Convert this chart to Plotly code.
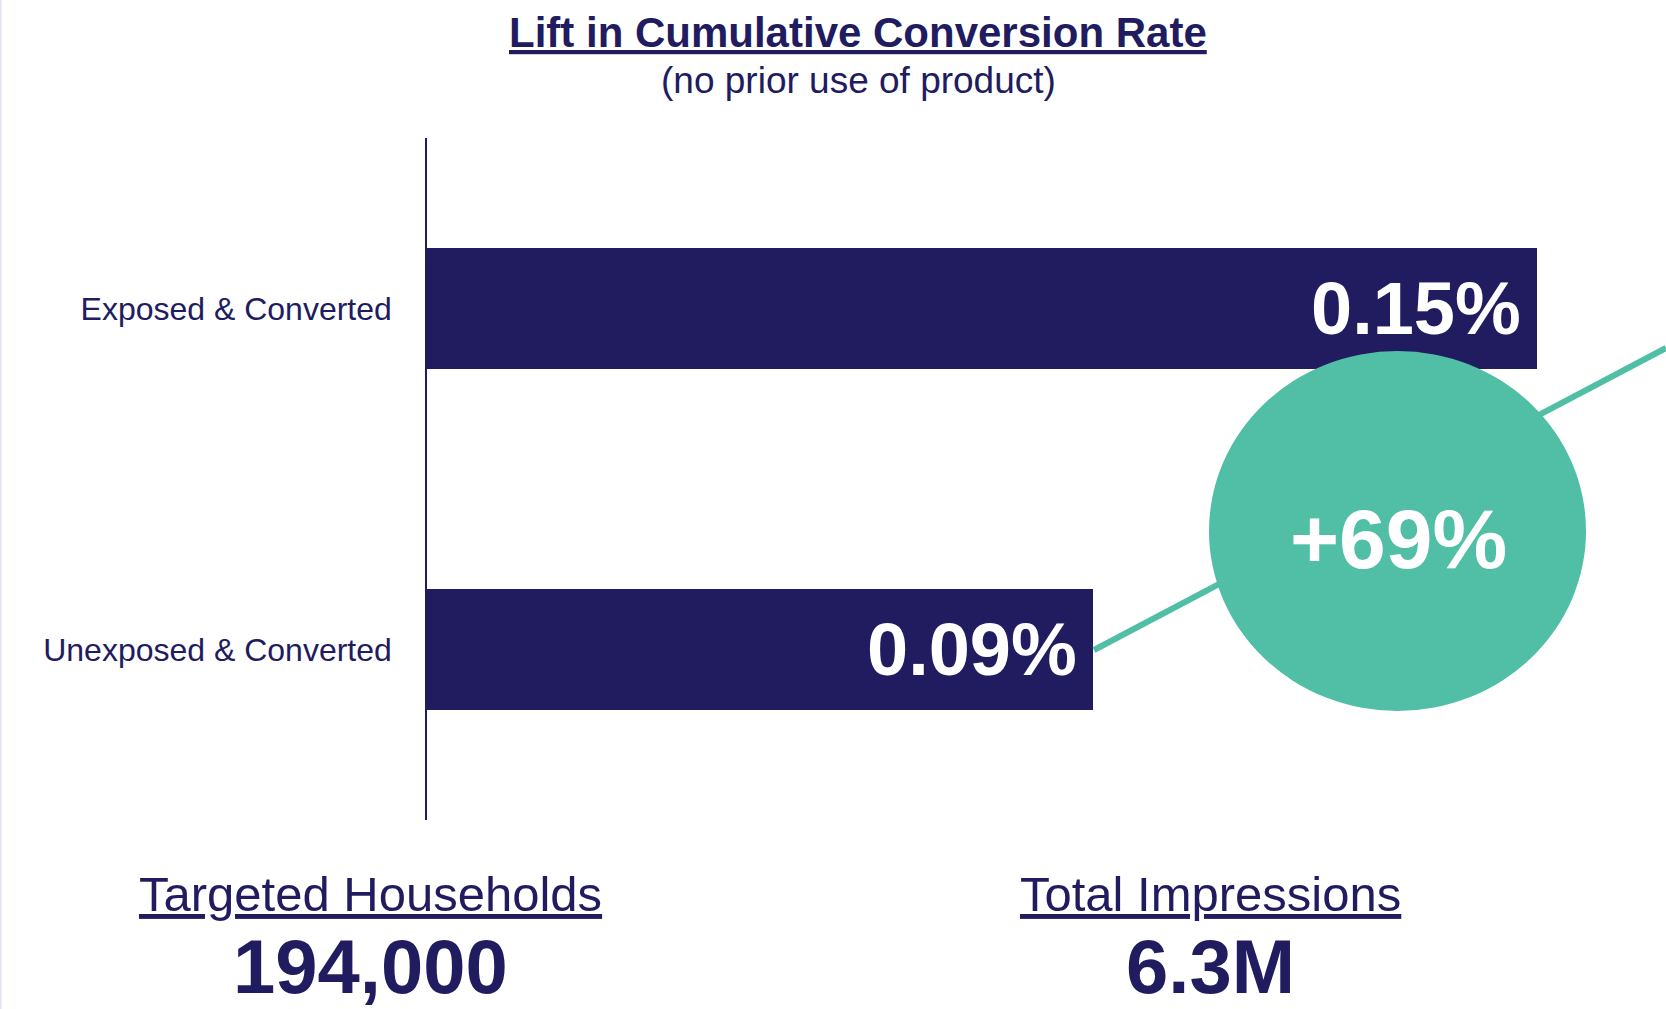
import plotly.graph_objects as go

# ---- data ----
categories = ["Exposed & Converted", "Unexposed & Converted"]
conversion_rates = [0.15, 0.09]          # percent
value_labels = ["0.15%", "0.09%"]
lift_label = "+69%"
title_text = "Lift in Cumulative Conversion Rate"
subtitle_text = "(no prior use of product)"
stat_titles = ["Targeted Households", "Total Impressions"]
stat_values = ["194,000", "6.3M"]

NAVY = "#211B5F"
TEAL = "#50BFA5"
FONT = "Liberation Sans, Arial, Helvetica, sans-serif"

W, H = 1666, 1009
L, R, T, B = 427, 0, 138, 189
PW, PH = W - L - R, H - T - B
XMAX = 0.15 * PW / (1537 - L)


def px(X):
    return (X - L) / PW


def py(Y):
    return (H - B - Y) / PH


fig = go.Figure()
fig.add_trace(go.Bar(
    x=conversion_rates, y=categories, orientation="h",
    marker=dict(color=NAVY, line=dict(width=0)),
    width=0.355, hoverinfo="skip",
))

annotations = []
# value labels inside bar ends
for c, v, lab in zip(categories, conversion_rates, value_labels):
    annotations.append(dict(
        x=v, y=c, xref="x", yref="y", text=f"<b>{lab}</b>",
        xanchor="right", yanchor="middle", xshift=-14, showarrow=False,
        font=dict(family=FONT, size=74, color="white"),
    ))

# title / subtitle
annotations.append(dict(
    x=px(858), y=py(33), xref="paper", yref="paper",
    text=f"<b><u>{title_text}</u></b>", showarrow=False,
    xanchor="center", yanchor="middle",
    font=dict(family=FONT, size=42, color=NAVY),
))
annotations.append(dict(
    x=px(858), y=py(80), xref="paper", yref="paper",
    text=subtitle_text, showarrow=False,
    xanchor="center", yanchor="middle",
    font=dict(family=FONT, size=37, color=NAVY),
))

# lift bubble label
annotations.append(dict(
    x=px(1398), y=py(539), xref="paper", yref="paper",
    text=f"<b>{lift_label}</b>", showarrow=False,
    xanchor="center", yanchor="middle",
    font=dict(family=FONT, size=84, color="white"),
))

# bottom stats
for cx, st, sv in zip([370, 1210], stat_titles, stat_values):
    annotations.append(dict(
        x=px(cx), y=py(894), xref="paper", yref="paper",
        text=f"<u>{st}</u>", showarrow=False,
        xanchor="center", yanchor="middle",
        font=dict(family=FONT, size=49, color=NAVY),
    ))
    annotations.append(dict(
        x=px(cx), y=py(966), xref="paper", yref="paper",
        text=f"<b>{sv}</b>", showarrow=False,
        xanchor="center", yanchor="middle",
        font=dict(family=FONT, size=76, color=NAVY),
    ))

shapes = [
    # faint left border
    dict(type="rect", xref="paper", yref="paper",
         x0=px(0), x1=px(1.5), y0=py(0), y1=py(H),
         fillcolor="#DDE3F1", line=dict(width=0), layer="above"),
    # connector line
    dict(type="line", xref="paper", yref="paper",
         x0=px(1094), y0=py(650), x1=px(1666), y1=py(348),
         line=dict(color=TEAL, width=6), layer="above"),
    # lift bubble
    dict(type="circle", xref="paper", yref="paper",
         x0=px(1209), x1=px(1586), y0=py(711), y1=py(351),
         fillcolor=TEAL, line=dict(width=0), layer="above"),
]

fig.update_layout(
    width=W, height=H,
    margin=dict(l=L, r=R, t=T, b=B, pad=0),
    paper_bgcolor="white", plot_bgcolor="white",
    showlegend=False,
    bargap=0,
    xaxis=dict(range=[0, XMAX], visible=False, fixedrange=True),
    yaxis=dict(
        categoryorder="array", categoryarray=categories,
        range=[1.5, -0.5],
        showline=True, linecolor=NAVY, linewidth=1.5,
        showgrid=False, zeroline=False, ticks="",
        ticklabelstandoff=27,
        tickfont=dict(family=FONT, size=32, color=NAVY),
        fixedrange=True,
    ),
    annotations=annotations,
    shapes=shapes,
)

fig.write_html("out.html")
